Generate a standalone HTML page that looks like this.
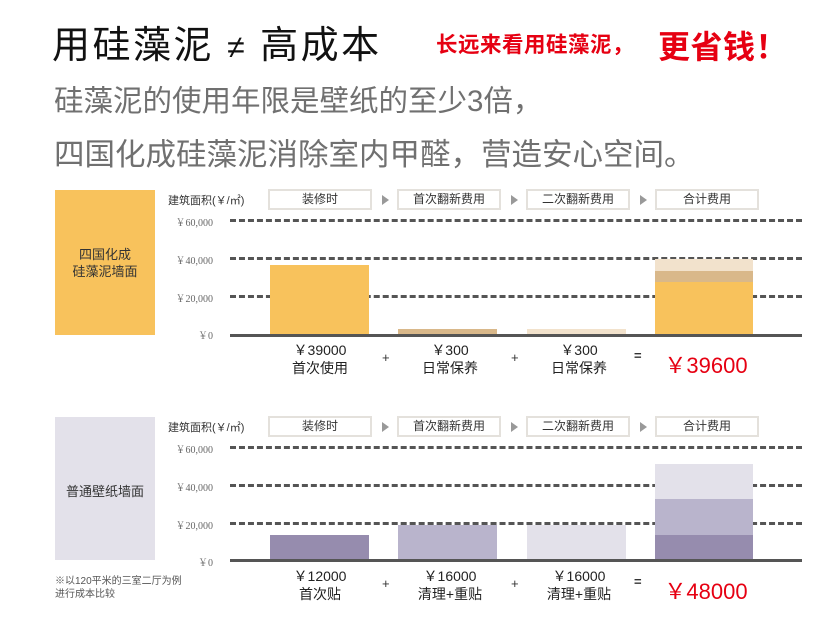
<!DOCTYPE html>
<html><head><meta charset="utf-8"><style>
*{margin:0;padding:0;box-sizing:border-box}
body{width:830px;height:618px;background:#fff;position:relative;overflow:hidden;font-family:"Liberation Sans","Noto Sans CJK SC",sans-serif}
.a{position:absolute;white-space:nowrap}
.hb{position:absolute;height:21px;width:104px;border:2px solid #e4e1dc;background:#fff;font-size:12px;color:#333;text-align:center;line-height:17px}
.ar{position:absolute;width:0;height:0;border-left:7px solid #999;border-top:5px solid transparent;border-bottom:5px solid transparent}
.g{position:absolute;left:230px;width:572px;height:0;border-top:3px dashed #555}
.tk{position:absolute;width:60px;left:153px;text-align:right;font-size:10px;color:#666;font-family:"Liberation Serif","Noto Serif CJK SC",serif}
.b{position:absolute}
.lb{position:absolute;width:120px;text-align:center;font-size:14px;color:#222;line-height:18px}
.op{position:absolute;font-size:13px;color:#333}
.tot{position:absolute;font-size:22px;color:#e60012;width:120px;text-align:center}
</style></head><body>
<div class="a" style="left:52px;top:14px;font-size:38px;color:#111;letter-spacing:2.5px">用硅藻泥 <span style="font-size:32px">≠</span> 高成本</div>
<div class="a" style="left:436px;top:28px;font-size:21.5px;color:#e60012;font-weight:bold;letter-spacing:0.5px">长远来看用硅藻泥，</div>
<div class="a" style="left:658px;top:22px;font-size:32px;color:#e60012;font-weight:bold;letter-spacing:0.5px">更省钱！</div>
<div class="a" style="left:54px;top:78px;font-size:29.5px;color:#707070">硅藻泥的使用年限是壁纸的至少3倍，</div>
<div class="a" style="left:54px;top:130px;font-size:30.5px;color:#707070">四国化成硅藻泥消除室内甲醛，营造安心空间。</div>

<!-- chart 1 -->
<div class="b" style="left:55px;top:190px;width:100px;height:145px;background:#f8c25c"></div>
<div class="a" style="left:55px;top:246px;width:100px;text-align:center;font-size:13px;line-height:17px;color:#333">四国化成<br>硅藻泥墙面</div>
<div class="a" style="left:168px;top:192px;font-size:11px;color:#333">建筑面积(￥/㎡)</div>
<div class="hb" style="left:268px;top:189px">装修时</div>
<div class="hb" style="left:397px;top:189px">首次翻新费用</div>
<div class="hb" style="left:526px;top:189px">二次翻新费用</div>
<div class="hb" style="left:655px;top:189px">合计费用</div>
<div class="ar" style="left:382px;top:195px"></div>
<div class="ar" style="left:511px;top:195px"></div>
<div class="ar" style="left:640px;top:195px"></div>
<div class="tk" style="top:214px">￥60,000</div>
<div class="tk" style="top:252px">￥40,000</div>
<div class="tk" style="top:290px">￥20,000</div>
<div class="tk" style="top:327px">￥0</div>
<div class="g" style="top:219px"></div>
<div class="g" style="top:257px"></div>
<div class="g" style="top:295px"></div>
<div class="b" style="left:270px;top:265px;width:99px;height:70px;background:#f8c25c"></div>
<div class="b" style="left:398px;top:329px;width:99px;height:6px;background:#d9b88a"></div>
<div class="b" style="left:527px;top:329px;width:99px;height:6px;background:#f2e2cc"></div>
<div class="b" style="left:655px;top:259px;width:98px;height:12px;background:#f2e2cc"></div>
<div class="b" style="left:655px;top:271px;width:98px;height:11px;background:#d9b88a"></div>
<div class="b" style="left:655px;top:282px;width:98px;height:53px;background:#f8c25c"></div>
<div class="b" style="left:230px;top:334px;width:572px;height:3px;background:#555"></div>
<div class="lb" style="left:260px;top:341px">￥39000<br>首次使用</div>
<div class="lb" style="left:390px;top:341px">￥300<br>日常保养</div>
<div class="lb" style="left:519px;top:341px">￥300<br>日常保养</div>
<div class="op" style="left:382px;top:350px">+</div>
<div class="op" style="left:511px;top:350px">+</div>
<div class="op" style="left:634px;top:348px;font-weight:bold">=</div>
<div class="tot" style="left:646px;top:348px">￥39600</div>

<!-- chart 2 -->
<div class="b" style="left:55px;top:417px;width:100px;height:143px;background:#e3e1ea"></div>
<div class="a" style="left:55px;top:481px;width:100px;text-align:center;font-size:13px;color:#333">普通壁纸墙面</div>
<div class="a" style="left:168px;top:419px;font-size:11px;color:#333">建筑面积(￥/㎡)</div>
<div class="hb" style="left:268px;top:416px">装修时</div>
<div class="hb" style="left:397px;top:416px">首次翻新费用</div>
<div class="hb" style="left:526px;top:416px">二次翻新费用</div>
<div class="hb" style="left:655px;top:416px">合计费用</div>
<div class="ar" style="left:382px;top:422px"></div>
<div class="ar" style="left:511px;top:422px"></div>
<div class="ar" style="left:640px;top:422px"></div>
<div class="tk" style="top:441px">￥60,000</div>
<div class="tk" style="top:479px">￥40,000</div>
<div class="tk" style="top:517px">￥20,000</div>
<div class="tk" style="top:554px">￥0</div>
<div class="g" style="top:446px"></div>
<div class="g" style="top:484px"></div>
<div class="g" style="top:522px"></div>
<div class="b" style="left:270px;top:535px;width:99px;height:25px;background:#968cae"></div>
<div class="b" style="left:398px;top:525px;width:99px;height:35px;background:#b9b4cc"></div>
<div class="b" style="left:527px;top:525px;width:99px;height:35px;background:#e3e1ea"></div>
<div class="b" style="left:655px;top:464px;width:98px;height:35px;background:#e3e1ea"></div>
<div class="b" style="left:655px;top:499px;width:98px;height:36px;background:#b9b4cc"></div>
<div class="b" style="left:655px;top:535px;width:98px;height:25px;background:#968cae"></div>
<div class="b" style="left:230px;top:559px;width:572px;height:3px;background:#555"></div>
<div class="lb" style="left:260px;top:567px">￥12000<br>首次贴</div>
<div class="lb" style="left:390px;top:567px">￥16000<br>清理+重贴</div>
<div class="lb" style="left:519px;top:567px">￥16000<br>清理+重贴</div>
<div class="op" style="left:382px;top:576px">+</div>
<div class="op" style="left:511px;top:576px">+</div>
<div class="op" style="left:634px;top:574px;font-weight:bold">=</div>
<div class="tot" style="left:646px;top:574px">￥48000</div>
<div class="a" style="left:55px;top:575px;font-size:10px;line-height:13px;color:#555">※以120平米的三室二厅为例<br>进行成本比较</div>
</body></html>
